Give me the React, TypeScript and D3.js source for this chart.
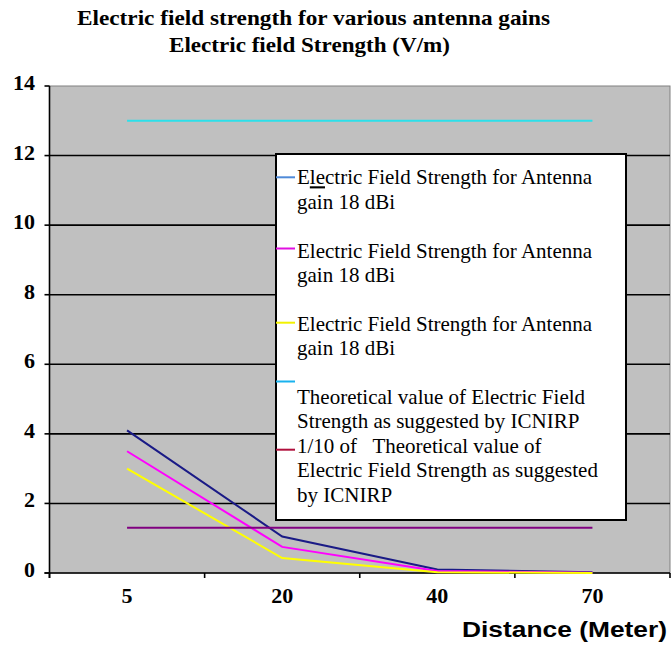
import React from "react";
import * as d3 from "d3";

// ---------- data ----------
const categories = ["5", "20", "40", "70"];
const gainA = [4.1, 1.05, 0.1, 0.02];
const gainB = [3.5, 0.75, 0.06, 0.01];
const gainC = [3.0, 0.43, 0.02, 0.0];
const icnirp = [13, 13, 13, 13];
const icnirpTenth = [1.3, 1.3, 1.3, 1.3];
const yTicks = [0, 2, 4, 6, 8, 10, 12, 14];

const titleLines = [
  "Electric field strength for various antenna gains",
  "Electric field Strength (V/m)",
];
const xAxisTitle = "Distance (Meter)";

const legendLines: string[][] = [
  ["Electric Field Strength for Antenna", "gain 18 dBi", ""],
  ["Electric Field Strength for Antenna", "gain 18 dBi", ""],
  ["Electric Field Strength for Antenna", "gain 18 dBi"],
  ["", "Theoretical value of Electric Field", "Strength as suggested by ICNIRP"],
  ["1/10 of   Theoretical value of", "Electric Field Strength as suggested", "by ICNIRP"],
];

const series = [
  { values: gainA, color: "#1a1a86", legendColor: "#4f8ad8" },
  { values: gainB, color: "#ff00ff", legendColor: "#e010e0" },
  { values: gainC, color: "#ffff00", legendColor: "#f2f200" },
  { values: icnirp, color: "#2de0ea", legendColor: "#19b2ee" },
  { values: icnirpTenth, color: "#800080", legendColor: "#b0103c" },
];

// ---------- layout ----------
const W = 672;
const H = 645;
const plot = { left: 49.5, right: 670, top: 86, bottom: 573 };
const legendBox = { x: 276, y: 154, w: 350, h: 366 };
const legendFirstBaseline = 184.3;
const legendLineH = 24.4;
const legendMarkerShift = [0, -2, -1, 9, 4];
const serif = "Liberation Serif";
const sans = "Liberation Sans";

const serifStyle = { fontFamily: serif };
const sansStyle = { fontFamily: sans };

export default function App() {
  const x = d3
    .scaleBand<string>()
    .domain(categories)
    .range([plot.left, plot.right])
    .padding(0);
  const bw = x.bandwidth();
  const cx = (c: string) => (x(c) as number) + bw / 2;
  const y = d3.scaleLinear().domain([0, 14]).range([plot.bottom, plot.top]);

  const line = d3
    .line<number>()
    .x((_, i) => cx(categories[i]))
    .y((d) => y(d));

  const boundaries = [plot.left, ...categories.map((c) => (x(c) as number) + bw)];

  let lineIdx = 0;
  const legendItems = legendLines.map((lines, i) => {
    const start = lineIdx;
    lineIdx += lines.length;
    const markerY =
      legendFirstBaseline + start * legendLineH - 7 + legendMarkerShift[i];
    return { lines, start, markerY };
  });

  return (
    <svg
      width={W}
      height={H}
      style={{ position: "absolute", left: 0, top: 0, background: "#fff" }}
    >
      {/* title */}
      <text
        x={313.5}
        y={25}
        textAnchor="middle"
        style={serifStyle}
        fontWeight="bold"
        fontSize={22}
        textLength={473}
        lengthAdjust="spacingAndGlyphs"
      >
        {titleLines[0]}
      </text>
      <text
        x={309.5}
        y={51.5}
        textAnchor="middle"
        style={serifStyle}
        fontWeight="bold"
        fontSize={22}
        textLength={281}
        lengthAdjust="spacingAndGlyphs"
      >
        {titleLines[1]}
      </text>

      {/* plot area */}
      <rect
        x={plot.left}
        y={plot.top}
        width={plot.right - plot.left}
        height={plot.bottom - plot.top}
        fill="#c0c0c0"
        stroke="#808080"
        strokeWidth={1}
      />
      {yTicks
        .filter((t) => t > 0 && t < 14)
        .map((t) => (
          <line
            key={"g" + t}
            x1={plot.left}
            x2={plot.right}
            y1={y(t)}
            y2={y(t)}
            stroke="#000"
            strokeWidth={1.6}
          />
        ))}
      <line
        x1={plot.left}
        x2={plot.left}
        y1={plot.top}
        y2={plot.bottom + 5}
        stroke="#000"
        strokeWidth={1.6}
      />
      <line
        x1={plot.left - 5}
        x2={plot.right}
        y1={plot.bottom}
        y2={plot.bottom}
        stroke="#000"
        strokeWidth={1.6}
      />
      {yTicks.map((t) => (
        <line
          key={"yt" + t}
          x1={plot.left - 5}
          x2={plot.left}
          y1={y(t)}
          y2={y(t)}
          stroke="#000"
          strokeWidth={1.6}
        />
      ))}
      {boundaries.map((b, i) => (
        <line
          key={"xt" + i}
          x1={b}
          x2={b}
          y1={plot.bottom}
          y2={plot.bottom + 5}
          stroke="#000"
          strokeWidth={1.6}
        />
      ))}

      {series.map((s, i) => (
        <path
          key={"s" + i}
          d={line(s.values) as string}
          fill="none"
          stroke={s.color}
          strokeWidth={2}
        />
      ))}

      {yTicks.map((t) => (
        <text
          key={"yl" + t}
          x={35}
          y={y(t) + 4}
          textAnchor="end"
          style={serifStyle}
          fontWeight="bold"
          fontSize={22}
        >
          {t}
        </text>
      ))}
      {categories.map((c) => (
        <text
          key={"xl" + c}
          x={cx(c)}
          y={603}
          textAnchor="middle"
          style={serifStyle}
          fontWeight="bold"
          fontSize={22}
        >
          {c}
        </text>
      ))}
      <text
        x={462}
        y={637}
        style={sansStyle}
        fontWeight="bold"
        fontSize={22}
        textLength={205}
        lengthAdjust="spacingAndGlyphs"
      >
        {xAxisTitle}
      </text>

      {/* legend */}
      <rect
        x={legendBox.x}
        y={legendBox.y}
        width={legendBox.w}
        height={legendBox.h}
        fill="#fff"
        stroke="#000"
        strokeWidth={2}
      />
      {legendItems.map((it, i) => (
        <g key={"lg" + i}>
          <line
            x1={legendBox.x}
            x2={legendBox.x + 19}
            y1={it.markerY}
            y2={it.markerY}
            stroke={series[i].legendColor}
            strokeWidth={2}
          />
          {it.lines.map((l, j) =>
            l === "" ? null : (
              <text
                key={j}
                x={297}
                y={legendFirstBaseline + (it.start + j) * legendLineH}
                style={{ fontFamily: serif, whiteSpace: "pre" }}
                fontSize={21}
                fill="#000"
              >
                {i === 0 && j === 0 ? (
                  <>
                    <tspan>{l.slice(0, 1)}</tspan>
                    <tspan style={{ textDecoration: "underline" }}>
                      {l.slice(1, 3)}
                    </tspan>
                    <tspan>{l.slice(3)}</tspan>
                  </>
                ) : (
                  l
                )}
              </text>
            )
          )}
        </g>
      ))}
    </svg>
  );
}
